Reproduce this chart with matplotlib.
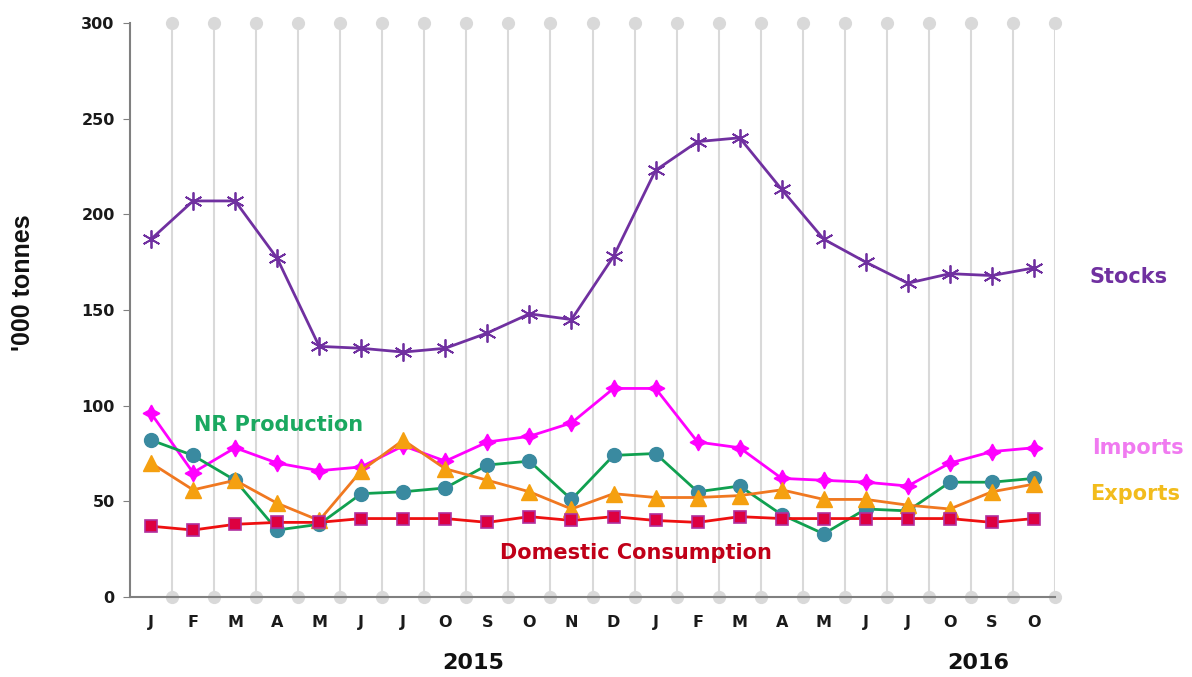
import matplotlib

matplotlib.use('Agg')
import matplotlib.pyplot as plt
import numpy as np

months = ['J', 'F', 'M', 'A', 'M', 'J', 'J', 'O', 'S', 'O', 'N',
          'D', 'J', 'F', 'M', 'A', 'M', 'J', 'J', 'O', 'S', 'O']

stocks = [187, 207, 207, 177, 131, 130, 128, 130, 138, 148, 145,
          178, 223, 238, 240, 213, 187, 175, 164, 169, 168, 172]
imports = [96, 65, 78, 70, 66, 68, 79, 71, 81, 84, 91,
           109, 109, 81, 78, 62, 61, 60, 58, 70, 76, 78]
nr_production = [82, 74, 61, 35, 38, 54, 55, 57, 69, 71, 51,
                 74, 75, 55, 58, 43, 33, 46, 45, 60, 60, 62]
exports = [70, 56, 61, 49, 40, 66, 82, 67, 61, 55, 46,
           54, 52, 52, 53, 56, 51, 51, 48, 46, 55, 59]
domestic = [37, 35, 38, 39, 39, 41, 41, 41, 39, 42, 40,
            42, 40, 39, 42, 41, 41, 41, 41, 41, 39, 41]

x = np.arange(len(months))
grey = '#d9d9d9'

fig = plt.figure(figsize=(11.92, 6.77), dpi=100)
ax = fig.add_axes([130 / 1192, 1 - 597 / 677, 925 / 1192, 574 / 677])
ax.set_xlim(-0.5, len(months) - 0.5)
ax.set_ylim(0, 300)

# vertical grid with grey dots at both ends
bounds = x + 0.5
ax.vlines(bounds, 0, 300, color=grey, lw=1.5, zorder=1)
for yv in (0, 300):
    ax.plot(bounds, [yv] * len(bounds), 'o', color=grey, ms=9.5,
            mec='none', clip_on=False, zorder=1)

lw = 2.0
ax.plot(x, stocks, color='#7030a0', lw=lw, marker=(6, 2, 0), ms=13,
        mew=1.3, zorder=4)
ax.plot(x, imports, color='#ff00ff', lw=lw, marker=(4, 1, 0), ms=12,
        mec='#ff00ff', zorder=4)
ax.plot(x, nr_production, color='#10a050', lw=lw, marker='o', ms=10,
        mfc='#3a8aa0', mec='#3a8aa0', zorder=4)
ax.plot(x, exports, color='#f07820', lw=lw, marker='^', ms=11,
        mfc='#f5a010', mec='#f5a010', zorder=4)
ax.plot(x, domestic, color='#ee1010', lw=lw, marker='s', ms=9,
        mfc='#dd0040', mec='#b030a0', mew=1.2, zorder=5)

for side in ('top', 'right'):
    ax.spines[side].set_visible(False)
for side in ('left', 'bottom'):
    ax.spines[side].set_color('#808080')
    ax.spines[side].set_linewidth(1.5)
    ax.spines[side].set_zorder(2)

ax.set_yticks([0, 50, 100, 150, 200, 250, 300])
ax.set_xticks(x)
ax.set_xticklabels(months)
ax.tick_params(axis='y', length=5, color='#808080', pad=6)
ax.tick_params(axis='x', length=0, pad=13)
for lab in ax.get_xticklabels() + ax.get_yticklabels():
    lab.set_fontfamily('DejaVu Sans')
    lab.set_fontweight('bold')
    lab.set_fontsize(11.5)
    lab.set_color('#1a1a1a')

fig.text(23 / 1192, 1 - 283 / 677, "'000 tonnes", rotation=90,
         ha='center', va='center', fontsize=18, fontweight='bold',
         family='Liberation Sans', color='#111111')

lab_kw = dict(fontsize=15, fontweight='bold', family='DejaVu Sans',
              va='center', ha='left')
ax.text(22.33, 167, 'Stocks', color='#7030a0', clip_on=False, **lab_kw)
ax.text(22.38, 78, 'Imports', color='#f07af0', clip_on=False, **lab_kw)
ax.text(22.33, 54, 'Exports', color='#f2bc1c', clip_on=False, **lab_kw)
ax.text(1.02, 90, 'NR Production', color='#1aa860', **lab_kw)
ax.text(8.29, 23, 'Domestic Consumption', color='#c00018', **lab_kw)

year_kw = dict(fontsize=16, fontweight='bold', family='DejaVu Sans',
               ha='center', va='center', color='#111111', clip_on=False)
ax.text(7.67, -34.5, '2015', **year_kw)
ax.text(19.67, -34.5, '2016', **year_kw)

fig.savefig('out.png', dpi=100)
